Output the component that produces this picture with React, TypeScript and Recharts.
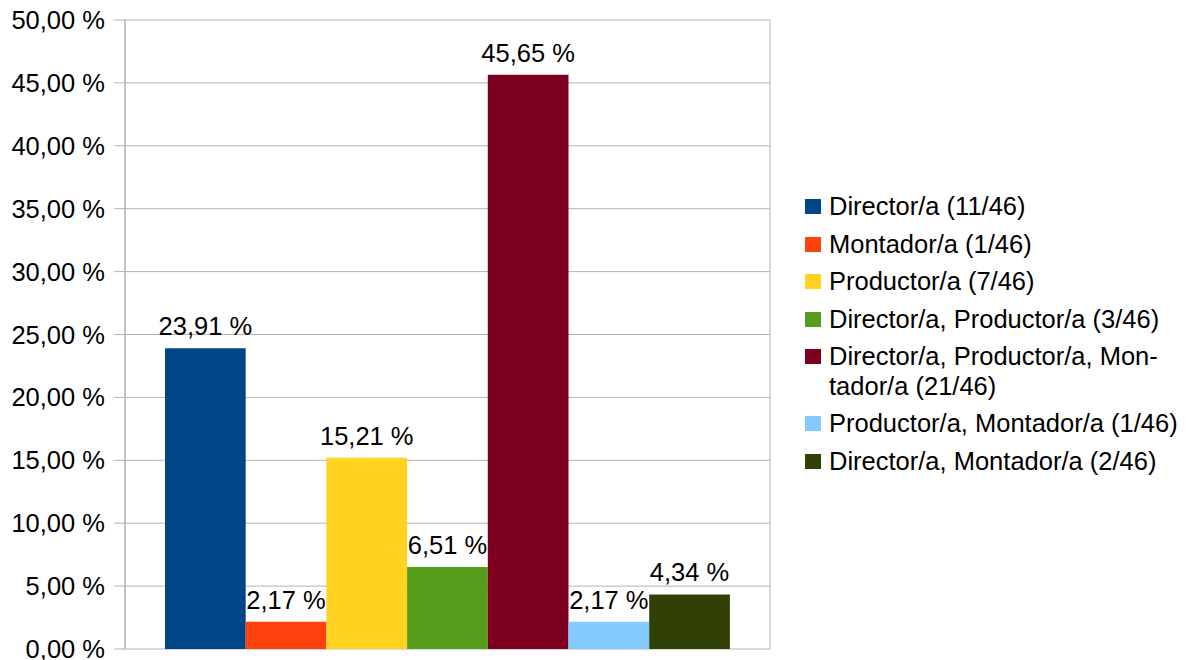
import React from 'react';
import { BarChart, Bar, XAxis, YAxis, CartesianGrid, Legend, LabelList } from 'recharts';

const SERIES_NAMES = [
  'Director/a (11/46)',
  'Montador/a (1/46)',
  'Productor/a (7/46)',
  'Director/a, Productor/a (3/46)',
  'Director/a, Productor/a, Mon\u00ADtador/a (21/46)',
  'Productor/a, Montador/a (1/46)',
  'Director/a, Montador/a (2/46)',
];
const SERIES_VALUES = [23.91, 2.17, 15.21, 6.51, 45.65, 2.17, 4.34];
const SERIES_COLORS = ['#004586', '#ff420e', '#ffd320', '#579d1c', '#7e0021', '#83caff', '#314004'];
const Y_TICKS = [0, 5, 10, 15, 20, 25, 30, 35, 40, 45, 50];

const FONT = '"Liberation Sans", Arial, sans-serif';
const FS = 25.5;
const GRID = '#b3b3b3';

const row: Record<string, number | string> = { name: '' };
SERIES_VALUES.forEach((v, i) => { row[`s${i}`] = v; });
const chartData = [row];

const pct = (v: number) => `${v.toFixed(2).replace('.', ',')} %`;

// legend drawn from the same arrays so the order stays as in the series
const LegendBox = () => (
  <div style={{ fontFamily: FONT, fontSize: FS, color: '#000', textAlign: 'left' }}>
    {SERIES_NAMES.map((n, i) => (
      <div key={i} style={{ display: 'flex', alignItems: 'flex-start', marginBottom: 8 }}>
        <div style={{ width: 16, height: 15, background: SERIES_COLORS[i], marginTop: 7, marginRight: 8, flexShrink: 0 }} />
        <div style={{ width: 358, lineHeight: '29.5px', hyphens: 'manual' }}>{n}</div>
      </div>
    ))}
  </div>
);

export default function App() {
  return (
    <div style={{ position: 'absolute', left: 0, top: 0, width: 1191, height: 660, background: '#fff' }}>
      <BarChart
        width={1191}
        height={660}
        data={chartData}
        margin={{ top: 20, right: 421, left: 0, bottom: 0 }}
        barSize={80.7}
        barGap={0}
      >
        <CartesianGrid stroke={GRID} xAxisId="frame" vertical horizontal />
        <XAxis xAxisId="cat" dataKey="name" hide />
        <XAxis
          xAxisId="frame"
          type="number"
          domain={[0, 1]}
          ticks={[0, 1]}
          tick={false}
          tickSize={11}
          height={11}
          axisLine={{ stroke: GRID }}
          tickLine={{ stroke: GRID }}
        />
        <YAxis
          domain={[0, 50]}
          ticks={Y_TICKS}
          width={125}
          tickSize={11}
          tickMargin={9}
          tickFormatter={pct}
          axisLine={{ stroke: GRID }}
          tickLine={{ stroke: GRID }}
          tick={{ fill: '#000', fontSize: FS, fontFamily: FONT }}
          interval={0}
        />
        <Legend
          layout="horizontal"
          verticalAlign="middle"
          align="center"
          content={<LegendBox />}
          wrapperStyle={{ position: 'absolute', left: 805, top: 192, width: 386, height: 'auto' }}
        />
        {SERIES_NAMES.map((n, i) => (
          <Bar
            key={n}
            xAxisId="cat"
            dataKey={`s${i}`}
            name={n}
            fill={SERIES_COLORS[i]}
            isAnimationActive={false}
          >
            <LabelList
              dataKey={`s${i}`}
              position="top"
              offset={13}
              formatter={(v: any) => pct(Number(v))}
              fill="#000"
              fontSize={FS}
              fontFamily={FONT}
            />
          </Bar>
        ))}
      </BarChart>
    </div>
  );
}
